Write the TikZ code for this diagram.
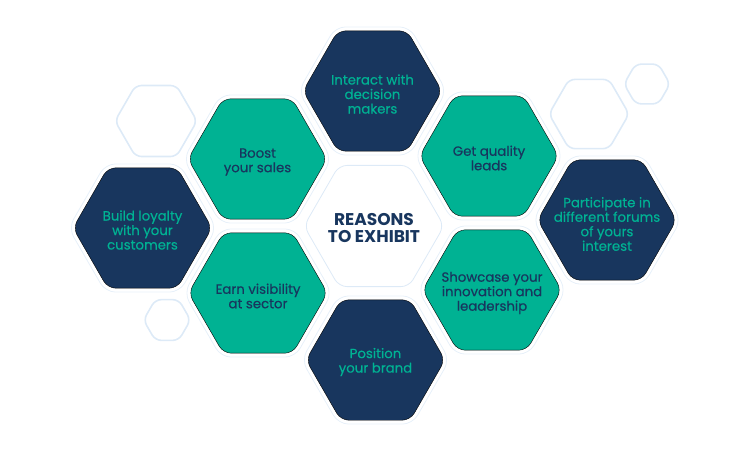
\documentclass[tikz,border=0pt]{standalone}
\usepackage{fontspec}
\setmainfont{Poppins}[FakeBold=0.4]
\newfontfamily\boldfam{Poppins}[FakeBold=0, UprightFont=* Bold]
\definecolor{navy}{HTML}{18365E}
\definecolor{teal}{HTML}{00B293}
\definecolor{faint}{HTML}{DDEAF7}
\tikzset{
  hexnavy/.style={fill=navy, rounded corners=8pt},
  hexteal/.style={fill=teal, rounded corners=8pt},
  hexwhite/.style={fill=white, draw=faint, line width=0.8pt, rounded corners=8pt},
  hexglow/.style={draw=faint!70, line width=0.8pt, rounded corners=10pt},
  hexdecor/.style={draw=faint, line width=1.6pt, rounded corners=6pt},
  lbl/.style={align=center, font=\fontsize{13.3}{14.5}\selectfont, inner sep=0pt},
  onnavy/.style={lbl, text=teal},
  onteal/.style={lbl, text=navy},
}
\newcommand{\hexagon}[4]{%
  \draw[#4, shift={(#1,#2)}] (0:#3) -- (60:#3) -- (120:#3) -- (180:#3) -- (240:#3) -- (300:#3) -- cycle;}
\begin{document}
\begin{tikzpicture}[x=1pt,y=-1pt]
\useasboundingbox (0,0) rectangle (749,451);
% decorative outline hexagons
\hexagon{156}{121}{41}{hexdecor}
\hexagon{167}{320}{23.5}{hexdecor}
\hexagon{589}{114}{40}{hexdecor}
\hexagon{647}{84}{23}{hexdecor}
% glows
\foreach \cx/\cy in {372.5/91, 257.5/159, 489/156, 142.5/228, 607/220, 258/293, 492/290, 375.5/360}{
  \hexagon{\cx}{\cy}{74}{hexglow}
}
% main hexagons
\hexagon{374}{226}{70}{hexwhite}
\hexagon{372.5}{91}{69.5}{hexnavy}
\hexagon{257.5}{159}{69.5}{hexteal}
\hexagon{489}{156}{69.5}{hexteal}
\hexagon{142.5}{228}{69.5}{hexnavy}
\hexagon{607}{220}{69.5}{hexnavy}
\hexagon{258}{293}{69.5}{hexteal}
\hexagon{492}{290}{69.5}{hexteal}
\hexagon{375.5}{360}{69.5}{hexnavy}
% labels
\node[lbl, text=navy, font=\boldfam\fontsize{17}{17}\selectfont] (center) at (374,228) {REASONS\\TO EXHIBIT};
\node[onnavy] (interact) at (372.5,94) {Interact with\\decision\\makers};
\node[onteal] (boost) at (257.5,162) {Boost\\your sales};
\node[onteal] (leads) at (489,158) {Get quality\\leads};
\node[onnavy] (loyalty) at (142.5,230) {Build loyalty\\with your\\customers};
\node[onnavy] (forums) at (607,224) {Participate in\\different forums\\of yours\\interest};
\node[onteal] (visibility) at (258,296) {Earn visibility\\at sector};
\node[onteal] (showcase) at (492,293) {Showcase your\\innovation and\\leadership};
\node[onnavy] (brand) at (375.5,362) {Position\\your brand};
\end{tikzpicture}
\end{document}
